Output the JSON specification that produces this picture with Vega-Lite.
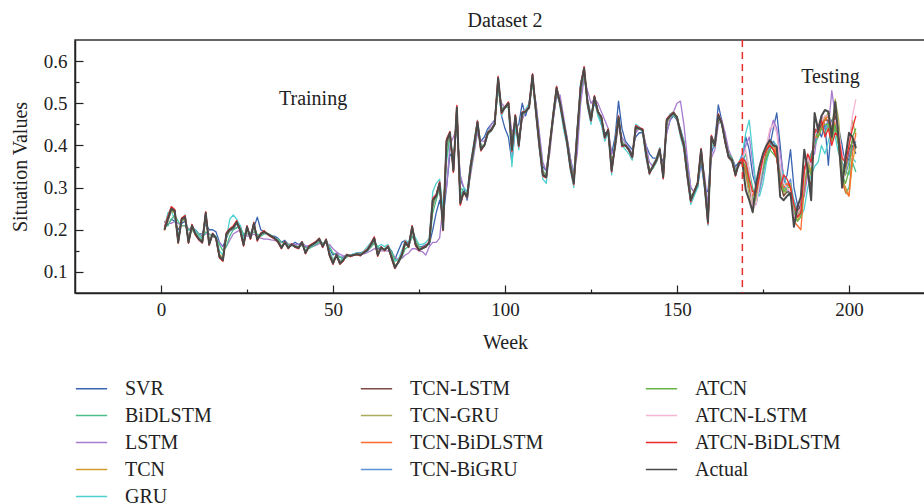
{
  "$schema": "https://vega.github.io/schema/vega-lite/v6.json",
  "autosize": "none",
  "width": 860,
  "height": 253,
  "padding": {"left": 75, "top": 40, "right": 0, "bottom": 211},
  "background": "white",
  "title": {"text": "Dataset 2", "font": "Liberation Serif", "fontSize": 20, "fontWeight": "normal", "color": "#222222", "baseline": "alphabetic", "offset": 13, "dy": 21},
  "config": {"view": {"stroke": "#333333", "strokeWidth": 1.5}, "font": "Liberation Serif"},
  "resolve": {"axis": {"x": "independent", "y": "independent"}},
  "datasets": {
    "names": [
      {"code": "sv", "model": "SVR"}, {"code": "bd", "model": "BiDLSTM"}, {"code": "ls", "model": "LSTM"},
      {"code": "tc", "model": "TCN"}, {"code": "gr", "model": "GRU"}, {"code": "tl", "model": "TCN-LSTM"},
      {"code": "tg", "model": "TCN-GRU"}, {"code": "tb", "model": "TCN-BiDLSTM"}, {"code": "tq", "model": "TCN-BiGRU"},
      {"code": "at", "model": "ATCN"}, {"code": "al", "model": "ATCN-LSTM"}, {"code": "ab", "model": "ATCN-BiDLSTM"},
      {"code": "ac", "model": "Actual"}
    ],
    "notes": [
      {"w": 44.2, "value": 0.496, "label": "Training"},
      {"w": 194.6, "value": 0.549, "label": "Testing"}
    ],
    "split": [{"w": 169}],
    "weekly": [
{"w":1,"ac":0.2,"sv":0.22,"bd":0.21,"ls":0.22,"gr":0.205,"tc":0.205,"tl":0.2,"tg":0.203,"tb":0.198,"tq":0.202,"at":0.2,"al":0.204,"ab":0.206},
{"w":2,"ac":0.225,"sv":0.21,"bd":0.21,"ls":0.215,"gr":0.24,"tc":0.22,"tl":0.228,"tg":0.224,"tb":0.226,"tq":0.222,"at":0.225,"al":0.23,"ab":0.232},
{"w":3,"ac":0.25,"sv":0.225,"bd":0.225,"ls":0.215,"gr":0.245,"tc":0.245,"tl":0.252,"tg":0.248,"tb":0.25,"tq":0.246,"at":0.247,"al":0.253,"ab":0.255},
{"w":4,"ac":0.245,"sv":0.22,"bd":0.235,"ls":0.22,"gr":0.225,"tc":0.24,"tl":0.243,"tg":0.246,"tb":0.24,"tq":0.244,"at":0.242,"al":0.247,"ab":0.248},
{"w":5,"ac":0.17,"sv":0.2,"bd":0.22,"ls":0.215,"gr":0.185,"tc":0.178,"tl":0.172,"tg":0.175,"tb":0.168,"tq":0.174,"at":0.173,"al":0.171,"ab":0.169},
{"w":6,"ac":0.225,"sv":0.215,"bd":0.21,"ls":0.21,"gr":0.225,"tc":0.22,"tl":0.224,"tg":0.222,"tb":0.227,"tq":0.221,"at":0.223,"al":0.226,"ab":0.228},
{"w":7,"ac":0.23,"sv":0.22,"bd":0.21,"ls":0.21,"gr":0.235,"tc":0.226,"tl":0.232,"tg":0.228,"tb":0.231,"tq":0.229,"at":0.227,"al":0.233,"ab":0.234},
{"w":8,"ac":0.17,"sv":0.2,"bd":0.2,"ls":0.2,"gr":0.18,"tc":0.176,"tl":0.171,"tg":0.174,"tb":0.169,"tq":0.173,"at":0.172,"al":0.17,"ab":0.168},
{"w":9,"ac":0.21,"sv":0.205,"bd":0.2,"ls":0.2,"gr":0.2,"tc":0.205,"tl":0.208,"tg":0.211,"tb":0.207,"tq":0.21,"at":0.209,"al":0.212,"ab":0.213},
{"w":10,"ac":0.19,"sv":0.2,"bd":0.19,"ls":0.195,"gr":0.2,"tc":0.193,"tl":0.19,"tg":0.192,"tb":0.188,"tq":0.191,"at":0.19,"al":0.189,"ab":0.187},
{"w":11,"ac":0.178,"sv":0.19,"bd":0.19,"ls":0.19,"gr":0.185,"tc":0.18,"tl":0.177,"tg":0.179,"tb":0.176,"tq":0.18,"at":0.178,"al":0.175,"ab":0.176},
{"w":12,"ac":0.17,"sv":0.19,"bd":0.18,"ls":0.185,"gr":0.175,"tc":0.173,"tl":0.171,"tg":0.172,"tb":0.169,"tq":0.171,"at":0.17,"al":0.168,"ab":0.169},
{"w":13,"ac":0.24,"sv":0.215,"bd":0.195,"ls":0.19,"gr":0.225,"tc":0.232,"tl":0.238,"tg":0.235,"tb":0.241,"tq":0.236,"at":0.237,"al":0.242,"ab":0.243},
{"w":14,"ac":0.165,"sv":0.2,"bd":0.19,"ls":0.19,"gr":0.175,"tc":0.172,"tl":0.167,"tg":0.17,"tb":0.166,"tq":0.169,"at":0.168,"al":0.164,"ab":0.163},
{"w":15,"ac":0.19,"sv":0.2,"bd":0.185,"ls":0.185,"gr":0.19,"tc":0.188,"tl":0.19,"tg":0.189,"tb":0.192,"tq":0.187,"at":0.19,"al":0.193,"ab":0.191},
{"w":16,"ac":0.18,"sv":0.195,"bd":0.18,"ls":0.18,"gr":0.185,"tc":0.182,"tl":0.18,"tg":0.181,"tb":0.179,"tq":0.182,"at":0.18,"al":0.178,"ab":0.179},
{"w":17,"ac":0.136,"sv":0.17,"bd":0.165,"ls":0.17,"gr":0.15,"tc":0.142,"tl":0.138,"tg":0.14,"tb":0.135,"tq":0.139,"at":0.137,"al":0.134,"ab":0.133},
{"w":18,"ac":0.128,"sv":0.16,"bd":0.15,"ls":0.16,"gr":0.14,"tc":0.133,"tl":0.13,"tg":0.131,"tb":0.127,"tq":0.132,"at":0.129,"al":0.126,"ab":0.125},
{"w":19,"ac":0.19,"sv":0.18,"bd":0.16,"ls":0.16,"gr":0.18,"tc":0.184,"tl":0.188,"tg":0.186,"tb":0.191,"tq":0.185,"at":0.187,"al":0.192,"ab":0.193},
{"w":20,"ac":0.2,"sv":0.2,"bd":0.185,"ls":0.175,"gr":0.225,"tc":0.198,"tl":0.2,"tg":0.199,"tb":0.201,"tq":0.197,"at":0.2,"al":0.202,"ab":0.203},
{"w":21,"ac":0.205,"sv":0.2,"bd":0.2,"ls":0.19,"gr":0.235,"tc":0.203,"tl":0.206,"tg":0.204,"tb":0.207,"tq":0.202,"at":0.205,"al":0.208,"ab":0.209},
{"w":22,"ac":0.218,"sv":0.205,"bd":0.205,"ls":0.195,"gr":0.225,"tc":0.214,"tl":0.219,"tg":0.216,"tb":0.22,"tq":0.215,"at":0.217,"al":0.221,"ab":0.222},
{"w":23,"ac":0.2,"sv":0.21,"bd":0.205,"ls":0.2,"gr":0.21,"tc":0.203,"tl":0.2,"tg":0.202,"tb":0.199,"tq":0.203,"at":0.201,"al":0.198,"ab":0.197},
{"w":24,"ac":0.164,"sv":0.185,"bd":0.19,"ls":0.19,"gr":0.18,"tc":0.17,"tl":0.166,"tg":0.168,"tb":0.163,"tq":0.169,"at":0.167,"al":0.162,"ab":0.161},
{"w":25,"ac":0.207,"sv":0.2,"bd":0.19,"ls":0.185,"gr":0.2,"tc":0.202,"tl":0.206,"tg":0.204,"tb":0.208,"tq":0.203,"at":0.205,"al":0.209,"ab":0.21},
{"w":26,"ac":0.18,"sv":0.19,"bd":0.19,"ls":0.185,"gr":0.19,"tc":0.183,"tl":0.18,"tg":0.182,"tb":0.179,"tq":0.184,"at":0.181,"al":0.178,"ab":0.177},
{"w":27,"ac":0.215,"sv":0.205,"bd":0.195,"ls":0.19,"gr":0.21,"tc":0.21,"tl":0.214,"tg":0.212,"tb":0.216,"tq":0.211,"at":0.213,"al":0.217,"ab":0.218},
{"w":28,"ac":0.176,"sv":0.23,"bd":0.19,"ls":0.185,"gr":0.185,"tc":0.18,"tl":0.177,"tg":0.179,"tb":0.175,"tq":0.181,"at":0.178,"al":0.174,"ab":0.173},
{"w":29,"ac":0.19,"sv":0.2,"bd":0.185,"ls":0.18,"gr":0.19,"tc":0.189,"tl":0.19,"tg":0.191,"tb":0.19,"tq":0.188,"at":0.19,"al":0.191,"ab":0.192},
{"w":30,"ac":0.195,"sv":0.195,"bd":0.19,"ls":0.178,"gr":0.195,"tc":0.193,"tl":0.196,"tg":0.194,"tb":0.197,"tq":0.193,"at":0.195,"al":0.197,"ab":0.198},
{"w":31,"ac":0.19,"sv":0.19,"bd":0.19,"ls":0.178,"gr":0.19,"tc":0.19,"tl":0.19,"tg":0.191,"tb":0.189,"tq":0.19,"at":0.19,"al":0.188,"ab":0.189},
{"w":32,"ac":0.185,"sv":0.185,"bd":0.185,"ls":0.176,"gr":0.187,"tc":0.186,"tl":0.185,"tg":0.186,"tb":0.184,"tq":0.186,"at":0.185,"al":0.184,"ab":0.183},
{"w":33,"ac":0.18,"sv":0.185,"bd":0.18,"ls":0.175,"gr":0.18,"tc":0.181,"tl":0.18,"tg":0.181,"tb":0.179,"tq":0.182,"at":0.18,"al":0.179,"ab":0.178},
{"w":34,"ac":0.172,"sv":0.18,"bd":0.178,"ls":0.172,"gr":0.175,"tc":0.174,"tl":0.172,"tg":0.173,"tb":0.171,"tq":0.174,"at":0.172,"al":0.17,"ab":0.17},
{"w":35,"ac":0.157,"sv":0.17,"bd":0.17,"ls":0.17,"gr":0.16,"tc":0.161,"tl":0.158,"tg":0.16,"tb":0.156,"tq":0.16,"at":0.158,"al":0.155,"ab":0.155},
{"w":36,"ac":0.17,"sv":0.175,"bd":0.168,"ls":0.168,"gr":0.17,"tc":0.168,"tl":0.17,"tg":0.169,"tb":0.171,"tq":0.168,"at":0.17,"al":0.172,"ab":0.172},
{"w":37,"ac":0.157,"sv":0.165,"bd":0.165,"ls":0.166,"gr":0.16,"tc":0.16,"tl":0.158,"tg":0.159,"tb":0.156,"tq":0.16,"at":0.158,"al":0.155,"ab":0.155},
{"w":38,"ac":0.165,"sv":0.165,"bd":0.163,"ls":0.165,"gr":0.165,"tc":0.164,"tl":0.165,"tg":0.164,"tb":0.166,"tq":0.163,"at":0.165,"al":0.166,"ab":0.167},
{"w":39,"ac":0.16,"sv":0.17,"bd":0.162,"ls":0.165,"gr":0.16,"tc":0.161,"tl":0.16,"tg":0.161,"tb":0.159,"tq":0.162,"at":0.16,"al":0.159,"ab":0.158},
{"w":40,"ac":0.157,"sv":0.165,"bd":0.16,"ls":0.165,"gr":0.16,"tc":0.159,"tl":0.157,"tg":0.158,"tb":0.156,"tq":0.159,"at":0.157,"al":0.155,"ab":0.155},
{"w":41,"ac":0.17,"sv":0.17,"bd":0.163,"ls":0.165,"gr":0.168,"tc":0.167,"tl":0.17,"tg":0.168,"tb":0.171,"tq":0.167,"at":0.169,"al":0.172,"ab":0.172},
{"w":42,"ac":0.145,"sv":0.16,"bd":0.158,"ls":0.162,"gr":0.15,"tc":0.149,"tl":0.146,"tg":0.148,"tb":0.144,"tq":0.149,"at":0.146,"al":0.143,"ab":0.143},
{"w":43,"ac":0.16,"sv":0.162,"bd":0.155,"ls":0.16,"gr":0.158,"tc":0.158,"tl":0.16,"tg":0.159,"tb":0.161,"tq":0.158,"at":0.16,"al":0.162,"ab":0.162},
{"w":44,"ac":0.165,"sv":0.165,"bd":0.16,"ls":0.16,"gr":0.163,"tc":0.164,"tl":0.165,"tg":0.164,"tb":0.166,"tq":0.163,"at":0.165,"al":0.166,"ab":0.167},
{"w":45,"ac":0.17,"sv":0.17,"bd":0.165,"ls":0.163,"gr":0.17,"tc":0.169,"tl":0.17,"tg":0.17,"tb":0.171,"tq":0.168,"at":0.17,"al":0.172,"ab":0.172},
{"w":46,"ac":0.178,"sv":0.175,"bd":0.17,"ls":0.167,"gr":0.18,"tc":0.176,"tl":0.178,"tg":0.177,"tb":0.179,"tq":0.176,"at":0.178,"al":0.18,"ab":0.18},
{"w":47,"ac":0.16,"sv":0.165,"bd":0.168,"ls":0.168,"gr":0.165,"tc":0.163,"tl":0.16,"tg":0.162,"tb":0.159,"tq":0.163,"at":0.161,"al":0.158,"ab":0.158},
{"w":48,"ac":0.176,"sv":0.17,"bd":0.17,"ls":0.168,"gr":0.172,"tc":0.174,"tl":0.176,"tg":0.175,"tb":0.177,"tq":0.173,"at":0.176,"al":0.178,"ab":0.178},
{"w":49,"ac":0.14,"sv":0.155,"bd":0.16,"ls":0.165,"gr":0.148,"tc":0.145,"tl":0.141,"tg":0.143,"tb":0.139,"tq":0.144,"at":0.142,"al":0.138,"ab":0.138},
{"w":50,"ac":0.12,"sv":0.14,"bd":0.145,"ls":0.155,"gr":0.13,"tc":0.125,"tl":0.121,"tg":0.123,"tb":0.119,"tq":0.124,"at":0.122,"al":0.118,"ab":0.118},
{"w":51,"ac":0.14,"sv":0.145,"bd":0.14,"ls":0.148,"gr":0.138,"tc":0.138,"tl":0.14,"tg":0.139,"tb":0.141,"tq":0.137,"at":0.14,"al":0.142,"ab":0.142},
{"w":52,"ac":0.12,"sv":0.135,"bd":0.135,"ls":0.142,"gr":0.128,"tc":0.124,"tl":0.121,"tg":0.122,"tb":0.119,"tq":0.123,"at":0.121,"al":0.118,"ab":0.118},
{"w":53,"ac":0.128,"sv":0.135,"bd":0.13,"ls":0.138,"gr":0.13,"tc":0.129,"tl":0.128,"tg":0.129,"tb":0.127,"tq":0.13,"at":0.128,"al":0.126,"ab":0.126},
{"w":54,"ac":0.14,"sv":0.14,"bd":0.135,"ls":0.138,"gr":0.14,"tc":0.138,"tl":0.14,"tg":0.139,"tb":0.141,"tq":0.138,"at":0.14,"al":0.142,"ab":0.142},
{"w":55,"ac":0.138,"sv":0.14,"bd":0.138,"ls":0.14,"gr":0.14,"tc":0.138,"tl":0.138,"tg":0.139,"tb":0.137,"tq":0.139,"at":0.138,"al":0.136,"ab":0.136},
{"w":56,"ac":0.14,"sv":0.142,"bd":0.14,"ls":0.141,"gr":0.143,"tc":0.14,"tl":0.14,"tg":0.141,"tb":0.14,"tq":0.141,"at":0.14,"al":0.139,"ab":0.139},
{"w":57,"ac":0.142,"sv":0.145,"bd":0.142,"ls":0.142,"gr":0.145,"tc":0.142,"tl":0.142,"tg":0.143,"tb":0.142,"tq":0.143,"at":0.142,"al":0.141,"ab":0.141},
{"w":58,"ac":0.14,"sv":0.145,"bd":0.142,"ls":0.142,"gr":0.143,"tc":0.141,"tl":0.14,"tg":0.141,"tb":0.139,"tq":0.141,"at":0.14,"al":0.138,"ab":0.138},
{"w":59,"ac":0.146,"sv":0.148,"bd":0.145,"ls":0.143,"gr":0.15,"tc":0.145,"tl":0.146,"tg":0.146,"tb":0.147,"tq":0.145,"at":0.146,"al":0.148,"ab":0.148},
{"w":60,"ac":0.152,"sv":0.155,"bd":0.15,"ls":0.146,"gr":0.16,"tc":0.151,"tl":0.152,"tg":0.152,"tb":0.153,"tq":0.15,"at":0.152,"al":0.154,"ab":0.154},
{"w":61,"ac":0.165,"sv":0.16,"bd":0.158,"ls":0.15,"gr":0.17,"tc":0.162,"tl":0.165,"tg":0.163,"tb":0.166,"tq":0.162,"at":0.164,"al":0.167,"ab":0.167},
{"w":62,"ac":0.18,"sv":0.17,"bd":0.168,"ls":0.155,"gr":0.175,"tc":0.176,"tl":0.18,"tg":0.178,"tb":0.182,"tq":0.177,"at":0.179,"al":0.183,"ab":0.183},
{"w":63,"ac":0.14,"sv":0.155,"bd":0.16,"ls":0.152,"gr":0.16,"tc":0.146,"tl":0.141,"tg":0.143,"tb":0.139,"tq":0.145,"at":0.142,"al":0.137,"ab":0.137},
{"w":64,"ac":0.158,"sv":0.155,"bd":0.155,"ls":0.15,"gr":0.165,"tc":0.156,"tl":0.158,"tg":0.157,"tb":0.159,"tq":0.156,"at":0.158,"al":0.16,"ab":0.16},
{"w":65,"ac":0.152,"sv":0.155,"bd":0.155,"ls":0.15,"gr":0.16,"tc":0.153,"tl":0.152,"tg":0.153,"tb":0.151,"tq":0.154,"at":0.152,"al":0.15,"ab":0.15},
{"w":66,"ac":0.16,"sv":0.16,"bd":0.157,"ls":0.15,"gr":0.165,"tc":0.159,"tl":0.16,"tg":0.16,"tb":0.161,"tq":0.159,"at":0.16,"al":0.162,"ab":0.162},
{"w":67,"ac":0.135,"sv":0.15,"bd":0.148,"ls":0.145,"gr":0.145,"tc":0.14,"tl":0.136,"tg":0.138,"tb":0.134,"tq":0.139,"at":0.137,"al":0.132,"ab":0.132},
{"w":68,"ac":0.11,"sv":0.13,"bd":0.13,"ls":0.135,"gr":0.125,"tc":0.116,"tl":0.111,"tg":0.113,"tb":0.109,"tq":0.115,"at":0.112,"al":0.108,"ab":0.108},
{"w":69,"ac":0.123,"sv":0.15,"bd":0.125,"ls":0.13,"gr":0.13,"tc":0.122,"tl":0.123,"tg":0.123,"tb":0.124,"tq":0.121,"at":0.123,"al":0.125,"ab":0.125},
{"w":70,"ac":0.14,"sv":0.17,"bd":0.135,"ls":0.132,"gr":0.15,"tc":0.138,"tl":0.14,"tg":0.139,"tb":0.141,"tq":0.138,"at":0.14,"al":0.142,"ab":0.142},
{"w":71,"ac":0.17,"sv":0.175,"bd":0.155,"ls":0.14,"gr":0.175,"tc":0.165,"tl":0.17,"tg":0.168,"tb":0.172,"tq":0.166,"at":0.169,"al":0.173,"ab":0.173},
{"w":72,"ac":0.16,"sv":0.165,"bd":0.16,"ls":0.145,"gr":0.17,"tc":0.162,"tl":0.16,"tg":0.161,"tb":0.159,"tq":0.162,"at":0.16,"al":0.158,"ab":0.158},
{"w":73,"ac":0.207,"sv":0.185,"bd":0.185,"ls":0.155,"gr":0.2,"tc":0.2,"tl":0.206,"tg":0.203,"tb":0.209,"tq":0.201,"at":0.205,"al":0.21,"ab":0.21},
{"w":74,"ac":0.165,"sv":0.17,"bd":0.175,"ls":0.155,"gr":0.18,"tc":0.172,"tl":0.166,"tg":0.169,"tb":0.164,"tq":0.171,"at":0.167,"al":0.162,"ab":0.162},
{"w":75,"ac":0.152,"sv":0.16,"bd":0.16,"ls":0.15,"gr":0.165,"tc":0.155,"tl":0.152,"tg":0.154,"tb":0.151,"tq":0.155,"at":0.153,"al":0.15,"ab":0.15},
{"w":76,"ac":0.156,"sv":0.16,"bd":0.157,"ls":0.148,"gr":0.165,"tc":0.156,"tl":0.156,"tg":0.156,"tb":0.157,"tq":0.155,"at":0.156,"al":0.158,"ab":0.158},
{"w":77,"ac":0.16,"sv":0.165,"bd":0.16,"ls":0.14,"gr":0.17,"tc":0.16,"tl":0.16,"tg":0.161,"tb":0.16,"tq":0.16,"at":0.16,"al":0.162,"ab":0.162},
{"w":78,"ac":0.17,"sv":0.165,"bd":0.168,"ls":0.16,"gr":0.18,"tc":0.169,"tl":0.17,"tg":0.17,"tb":0.171,"tq":0.169,"at":0.17,"al":0.172,"ab":0.172},
{"w":79,"ac":0.27,"sv":0.2,"bd":0.24,"ls":0.17,"gr":0.29,"tc":0.255,"tl":0.268,"tg":0.262,"tb":0.272,"tq":0.258,"at":0.265,"al":0.275,"ab":0.275},
{"w":80,"ac":0.28,"sv":0.24,"bd":0.27,"ls":0.17,"gr":0.31,"tc":0.278,"tl":0.28,"tg":0.279,"tb":0.282,"tq":0.277,"at":0.28,"al":0.284,"ab":0.284},
{"w":81,"ac":0.31,"sv":0.27,"bd":0.3,"ls":0.18,"gr":0.32,"tc":0.305,"tl":0.31,"tg":0.308,"tb":0.312,"tq":0.306,"at":0.309,"al":0.314,"ab":0.314},
{"w":82,"ac":0.2,"sv":0.23,"bd":0.23,"ls":0.26,"gr":0.25,"tc":0.215,"tl":0.203,"tg":0.208,"tb":0.2,"tq":0.212,"at":0.205,"al":0.198,"ab":0.198},
{"w":83,"ac":0.41,"sv":0.3,"bd":0.37,"ls":0.3,"gr":0.36,"tc":0.395,"tl":0.408,"tg":0.402,"tb":0.412,"tq":0.398,"at":0.405,"al":0.415,"ab":0.415},
{"w":84,"ac":0.43,"sv":0.38,"bd":0.42,"ls":0.4,"gr":0.43,"tc":0.428,"tl":0.43,"tg":0.429,"tb":0.432,"tq":0.427,"at":0.43,"al":0.433,"ab":0.433},
{"w":85,"ac":0.34,"sv":0.37,"bd":0.36,"ls":0.42,"gr":0.35,"tc":0.35,"tl":0.342,"tg":0.345,"tb":0.338,"tq":0.348,"at":0.343,"al":0.336,"ab":0.336},
{"w":86,"ac":0.49,"sv":0.45,"bd":0.46,"ls":0.44,"gr":0.47,"tc":0.48,"tl":0.488,"tg":0.485,"tb":0.492,"tq":0.482,"at":0.487,"al":0.495,"ab":0.495},
{"w":87,"ac":0.263,"sv":0.32,"bd":0.3,"ls":0.33,"gr":0.28,"tc":0.275,"tl":0.265,"tg":0.27,"tb":0.261,"tq":0.272,"at":0.267,"al":0.258,"ab":0.258},
{"w":88,"ac":0.29,"sv":0.3,"bd":0.29,"ls":0.3,"gr":0.3,"tc":0.29,"tl":0.29,"tg":0.291,"tb":0.289,"tq":0.29,"at":0.29,"al":0.288,"ab":0.288},
{"w":89,"ac":0.278,"sv":0.27,"bd":0.285,"ls":0.29,"gr":0.29,"tc":0.282,"tl":0.279,"tg":0.28,"tb":0.277,"tq":0.281,"at":0.279,"al":0.276,"ab":0.276},
{"w":90,"ac":0.35,"sv":0.34,"bd":0.34,"ls":0.33,"gr":0.36,"tc":0.345,"tl":0.35,"tg":0.348,"tb":0.352,"tq":0.346,"at":0.349,"al":0.353,"ab":0.353},
{"w":91,"ac":0.4,"sv":0.39,"bd":0.39,"ls":0.38,"gr":0.41,"tc":0.396,"tl":0.4,"tg":0.398,"tb":0.402,"tq":0.397,"at":0.4,"al":0.403,"ab":0.403},
{"w":92,"ac":0.455,"sv":0.44,"bd":0.445,"ls":0.43,"gr":0.46,"tc":0.45,"tl":0.454,"tg":0.452,"tb":0.457,"tq":0.451,"at":0.454,"al":0.458,"ab":0.458},
{"w":93,"ac":0.39,"sv":0.41,"bd":0.4,"ls":0.41,"gr":0.4,"tc":0.395,"tl":0.391,"tg":0.393,"tb":0.389,"tq":0.394,"at":0.391,"al":0.387,"ab":0.387},
{"w":94,"ac":0.4,"sv":0.42,"bd":0.4,"ls":0.41,"gr":0.4,"tc":0.4,"tl":0.4,"tg":0.4,"tb":0.4,"tq":0.4,"at":0.4,"al":0.4,"ab":0.401},
{"w":95,"ac":0.43,"sv":0.44,"bd":0.425,"ls":0.43,"gr":0.435,"tc":0.428,"tl":0.43,"tg":0.429,"tb":0.431,"tq":0.428,"at":0.43,"al":0.432,"ab":0.432},
{"w":96,"ac":0.436,"sv":0.45,"bd":0.435,"ls":0.45,"gr":0.44,"tc":0.435,"tl":0.436,"tg":0.436,"tb":0.437,"tq":0.435,"at":0.436,"al":0.438,"ab":0.438},
{"w":97,"ac":0.45,"sv":0.46,"bd":0.45,"ls":0.46,"gr":0.455,"tc":0.449,"tl":0.45,"tg":0.45,"tb":0.451,"tq":0.449,"at":0.45,"al":0.452,"ab":0.452},
{"w":98,"ac":0.56,"sv":0.55,"bd":0.54,"ls":0.53,"gr":0.54,"tc":0.55,"tl":0.558,"tg":0.555,"tb":0.562,"tq":0.552,"at":0.557,"al":0.565,"ab":0.563},
{"w":99,"ac":0.479,"sv":0.47,"bd":0.49,"ls":0.5,"gr":0.47,"tc":0.485,"tl":0.48,"tg":0.482,"tb":0.477,"tq":0.484,"at":0.48,"al":0.475,"ab":0.475},
{"w":100,"ac":0.49,"sv":0.44,"bd":0.49,"ls":0.49,"gr":0.49,"tc":0.489,"tl":0.49,"tg":0.49,"tb":0.491,"tq":0.489,"at":0.49,"al":0.492,"ab":0.492},
{"w":101,"ac":0.5,"sv":0.42,"bd":0.49,"ls":0.5,"gr":0.5,"tc":0.497,"tl":0.5,"tg":0.499,"tb":0.502,"tq":0.498,"at":0.5,"al":0.503,"ab":0.503},
{"w":102,"ac":0.39,"sv":0.36,"bd":0.4,"ls":0.43,"gr":0.35,"tc":0.4,"tl":0.392,"tg":0.395,"tb":0.388,"tq":0.398,"at":0.393,"al":0.385,"ab":0.385},
{"w":103,"ac":0.47,"sv":0.44,"bd":0.46,"ls":0.45,"gr":0.45,"tc":0.465,"tl":0.469,"tg":0.467,"tb":0.471,"tq":0.466,"at":0.468,"al":0.473,"ab":0.473},
{"w":104,"ac":0.4,"sv":0.45,"bd":0.41,"ls":0.42,"gr":0.39,"tc":0.405,"tl":0.401,"tg":0.403,"tb":0.399,"tq":0.404,"at":0.402,"al":0.397,"ab":0.397},
{"w":105,"ac":0.477,"sv":0.5,"bd":0.47,"ls":0.46,"gr":0.48,"tc":0.474,"tl":0.477,"tg":0.476,"tb":0.478,"tq":0.474,"at":0.476,"al":0.479,"ab":0.479},
{"w":106,"ac":0.48,"sv":0.47,"bd":0.48,"ls":0.48,"gr":0.485,"tc":0.48,"tl":0.48,"tg":0.48,"tb":0.481,"tq":0.48,"at":0.48,"al":0.482,"ab":0.482},
{"w":107,"ac":0.49,"sv":0.5,"bd":0.49,"ls":0.49,"gr":0.5,"tc":0.49,"tl":0.49,"tg":0.49,"tb":0.491,"tq":0.489,"at":0.49,"al":0.492,"ab":0.492},
{"w":108,"ac":0.567,"sv":0.55,"bd":0.55,"ls":0.55,"gr":0.56,"tc":0.56,"tl":0.565,"tg":0.563,"tb":0.568,"tq":0.561,"at":0.565,"al":0.57,"ab":0.57},
{"w":109,"ac":0.48,"sv":0.5,"bd":0.48,"ls":0.5,"gr":0.47,"tc":0.485,"tl":0.481,"tg":0.483,"tb":0.479,"tq":0.484,"at":0.481,"al":0.477,"ab":0.477},
{"w":110,"ac":0.4,"sv":0.42,"bd":0.41,"ls":0.43,"gr":0.39,"tc":0.405,"tl":0.401,"tg":0.403,"tb":0.399,"tq":0.404,"at":0.402,"al":0.397,"ab":0.397},
{"w":111,"ac":0.33,"sv":0.35,"bd":0.34,"ls":0.36,"gr":0.32,"tc":0.335,"tl":0.331,"tg":0.333,"tb":0.329,"tq":0.334,"at":0.331,"al":0.327,"ab":0.327},
{"w":112,"ac":0.325,"sv":0.34,"bd":0.33,"ls":0.34,"gr":0.31,"tc":0.327,"tl":0.325,"tg":0.326,"tb":0.324,"tq":0.327,"at":0.325,"al":0.323,"ab":0.323},
{"w":113,"ac":0.4,"sv":0.4,"bd":0.4,"ls":0.38,"gr":0.4,"tc":0.397,"tl":0.4,"tg":0.399,"tb":0.401,"tq":0.398,"at":0.4,"al":0.403,"ab":0.403},
{"w":114,"ac":0.47,"sv":0.46,"bd":0.47,"ls":0.46,"gr":0.48,"tc":0.466,"tl":0.47,"tg":0.468,"tb":0.472,"tq":0.467,"at":0.469,"al":0.473,"ab":0.473},
{"w":115,"ac":0.536,"sv":0.52,"bd":0.53,"ls":0.52,"gr":0.54,"tc":0.53,"tl":0.535,"tg":0.533,"tb":0.538,"tq":0.531,"at":0.534,"al":0.54,"ab":0.54},
{"w":116,"ac":0.5,"sv":0.5,"bd":0.5,"ls":0.52,"gr":0.49,"tc":0.502,"tl":0.5,"tg":0.501,"tb":0.499,"tq":0.502,"at":0.5,"al":0.498,"ab":0.498},
{"w":117,"ac":0.455,"sv":0.46,"bd":0.46,"ls":0.47,"gr":0.44,"tc":0.457,"tl":0.455,"tg":0.456,"tb":0.454,"tq":0.457,"at":0.455,"al":0.452,"ab":0.452},
{"w":118,"ac":0.41,"sv":0.42,"bd":0.41,"ls":0.42,"gr":0.4,"tc":0.412,"tl":0.41,"tg":0.411,"tb":0.409,"tq":0.412,"at":0.41,"al":0.408,"ab":0.408},
{"w":119,"ac":0.35,"sv":0.37,"bd":0.36,"ls":0.37,"gr":0.34,"tc":0.355,"tl":0.351,"tg":0.353,"tb":0.349,"tq":0.354,"at":0.351,"al":0.347,"ab":0.347},
{"w":120,"ac":0.31,"sv":0.33,"bd":0.32,"ls":0.33,"gr":0.3,"tc":0.315,"tl":0.311,"tg":0.313,"tb":0.309,"tq":0.314,"at":0.311,"al":0.307,"ab":0.307},
{"w":121,"ac":0.43,"sv":0.44,"bd":0.42,"ls":0.38,"gr":0.44,"tc":0.425,"tl":0.43,"tg":0.428,"tb":0.432,"tq":0.426,"at":0.429,"al":0.433,"ab":0.433},
{"w":122,"ac":0.54,"sv":0.52,"bd":0.53,"ls":0.5,"gr":0.55,"tc":0.535,"tl":0.54,"tg":0.538,"tb":0.542,"tq":0.536,"at":0.539,"al":0.544,"ab":0.544},
{"w":123,"ac":0.583,"sv":0.57,"bd":0.57,"ls":0.56,"gr":0.58,"tc":0.575,"tl":0.582,"tg":0.579,"tb":0.585,"tq":0.577,"at":0.581,"al":0.587,"ab":0.587},
{"w":124,"ac":0.5,"sv":0.51,"bd":0.5,"ls":0.53,"gr":0.49,"tc":0.505,"tl":0.501,"tg":0.503,"tb":0.499,"tq":0.504,"at":0.501,"al":0.497,"ab":0.497},
{"w":125,"ac":0.46,"sv":0.47,"bd":0.47,"ls":0.5,"gr":0.45,"tc":0.462,"tl":0.46,"tg":0.461,"tb":0.459,"tq":0.462,"at":0.46,"al":0.458,"ab":0.458},
{"w":126,"ac":0.515,"sv":0.5,"bd":0.51,"ls":0.51,"gr":0.51,"tc":0.512,"tl":0.515,"tg":0.514,"tb":0.516,"tq":0.513,"at":0.515,"al":0.518,"ab":0.518},
{"w":127,"ac":0.48,"sv":0.48,"bd":0.48,"ls":0.5,"gr":0.47,"tc":0.482,"tl":0.48,"tg":0.481,"tb":0.479,"tq":0.482,"at":0.48,"al":0.478,"ab":0.478},
{"w":128,"ac":0.467,"sv":0.45,"bd":0.46,"ls":0.48,"gr":0.45,"tc":0.466,"tl":0.467,"tg":0.466,"tb":0.468,"tq":0.465,"at":0.467,"al":0.469,"ab":0.469},
{"w":129,"ac":0.42,"sv":0.43,"bd":0.425,"ls":0.46,"gr":0.41,"tc":0.424,"tl":0.421,"tg":0.422,"tb":0.419,"tq":0.423,"at":0.421,"al":0.417,"ab":0.417},
{"w":130,"ac":0.437,"sv":0.43,"bd":0.43,"ls":0.44,"gr":0.43,"tc":0.435,"tl":0.437,"tg":0.436,"tb":0.438,"tq":0.435,"at":0.437,"al":0.439,"ab":0.439},
{"w":131,"ac":0.34,"sv":0.38,"bd":0.35,"ls":0.38,"gr":0.33,"tc":0.348,"tl":0.342,"tg":0.345,"tb":0.339,"tq":0.347,"at":0.343,"al":0.337,"ab":0.337},
{"w":132,"ac":0.4,"sv":0.42,"bd":0.4,"ls":0.39,"gr":0.41,"tc":0.398,"tl":0.4,"tg":0.399,"tb":0.401,"tq":0.398,"at":0.4,"al":0.402,"ab":0.402},
{"w":133,"ac":0.467,"sv":0.505,"bd":0.46,"ls":0.45,"gr":0.47,"tc":0.462,"tl":0.466,"tg":0.464,"tb":0.468,"tq":0.463,"at":0.466,"al":0.47,"ab":0.47},
{"w":134,"ac":0.4,"sv":0.44,"bd":0.41,"ls":0.42,"gr":0.4,"tc":0.405,"tl":0.401,"tg":0.403,"tb":0.399,"tq":0.404,"at":0.401,"al":0.397,"ab":0.397},
{"w":135,"ac":0.4,"sv":0.41,"bd":0.4,"ls":0.405,"gr":0.39,"tc":0.4,"tl":0.4,"tg":0.4,"tb":0.4,"tq":0.4,"at":0.4,"al":0.4,"ab":0.401},
{"w":136,"ac":0.39,"sv":0.4,"bd":0.39,"ls":0.395,"gr":0.38,"tc":0.391,"tl":0.39,"tg":0.39,"tb":0.389,"tq":0.391,"at":0.39,"al":0.388,"ab":0.388},
{"w":137,"ac":0.373,"sv":0.39,"bd":0.375,"ls":0.38,"gr":0.365,"tc":0.375,"tl":0.373,"tg":0.374,"tb":0.372,"tq":0.375,"at":0.373,"al":0.371,"ab":0.371},
{"w":138,"ac":0.444,"sv":0.42,"bd":0.44,"ls":0.43,"gr":0.45,"tc":0.438,"tl":0.443,"tg":0.441,"tb":0.446,"tq":0.44,"at":0.443,"al":0.447,"ab":0.447},
{"w":139,"ac":0.44,"sv":0.43,"bd":0.44,"ls":0.44,"gr":0.445,"tc":0.44,"tl":0.44,"tg":0.44,"tb":0.441,"tq":0.439,"at":0.44,"al":0.442,"ab":0.442},
{"w":140,"ac":0.437,"sv":0.43,"bd":0.435,"ls":0.44,"gr":0.43,"tc":0.437,"tl":0.437,"tg":0.437,"tb":0.438,"tq":0.436,"at":0.437,"al":0.439,"ab":0.439},
{"w":141,"ac":0.38,"sv":0.4,"bd":0.385,"ls":0.4,"gr":0.37,"tc":0.385,"tl":0.381,"tg":0.383,"tb":0.379,"tq":0.384,"at":0.381,"al":0.377,"ab":0.377},
{"w":142,"ac":0.335,"sv":0.38,"bd":0.34,"ls":0.36,"gr":0.33,"tc":0.34,"tl":0.336,"tg":0.338,"tb":0.334,"tq":0.339,"at":0.336,"al":0.332,"ab":0.332},
{"w":143,"ac":0.35,"sv":0.37,"bd":0.345,"ls":0.35,"gr":0.355,"tc":0.349,"tl":0.35,"tg":0.35,"tb":0.351,"tq":0.349,"at":0.35,"al":0.352,"ab":0.352},
{"w":144,"ac":0.365,"sv":0.37,"bd":0.36,"ls":0.36,"gr":0.37,"tc":0.364,"tl":0.365,"tg":0.365,"tb":0.366,"tq":0.364,"at":0.365,"al":0.367,"ab":0.367},
{"w":145,"ac":0.39,"sv":0.38,"bd":0.385,"ls":0.38,"gr":0.395,"tc":0.387,"tl":0.39,"tg":0.389,"tb":0.391,"tq":0.388,"at":0.39,"al":0.392,"ab":0.392},
{"w":146,"ac":0.325,"sv":0.36,"bd":0.33,"ls":0.35,"gr":0.32,"tc":0.332,"tl":0.326,"tg":0.329,"tb":0.323,"tq":0.331,"at":0.327,"al":0.321,"ab":0.321},
{"w":147,"ac":0.46,"sv":0.43,"bd":0.45,"ls":0.43,"gr":0.455,"tc":0.452,"tl":0.459,"tg":0.456,"tb":0.462,"tq":0.454,"at":0.458,"al":0.463,"ab":0.463},
{"w":148,"ac":0.47,"sv":0.46,"bd":0.47,"ls":0.46,"gr":0.475,"tc":0.468,"tl":0.47,"tg":0.469,"tb":0.471,"tq":0.468,"at":0.47,"al":0.472,"ab":0.472},
{"w":149,"ac":0.477,"sv":0.47,"bd":0.47,"ls":0.48,"gr":0.48,"tc":0.476,"tl":0.477,"tg":0.477,"tb":0.478,"tq":0.476,"at":0.477,"al":0.479,"ab":0.479},
{"w":150,"ac":0.467,"sv":0.46,"bd":0.465,"ls":0.5,"gr":0.46,"tc":0.468,"tl":0.467,"tg":0.467,"tb":0.466,"tq":0.468,"at":0.467,"al":0.465,"ab":0.465},
{"w":151,"ac":0.43,"sv":0.44,"bd":0.435,"ls":0.505,"gr":0.42,"tc":0.434,"tl":0.431,"tg":0.432,"tb":0.429,"tq":0.433,"at":0.431,"al":0.427,"ab":0.427},
{"w":152,"ac":0.4,"sv":0.41,"bd":0.41,"ls":0.45,"gr":0.39,"tc":0.404,"tl":0.401,"tg":0.402,"tb":0.399,"tq":0.403,"at":0.401,"al":0.397,"ab":0.397},
{"w":153,"ac":0.33,"sv":0.36,"bd":0.34,"ls":0.37,"gr":0.32,"tc":0.337,"tl":0.331,"tg":0.334,"tb":0.328,"tq":0.336,"at":0.332,"al":0.326,"ab":0.326},
{"w":154,"ac":0.27,"sv":0.3,"bd":0.28,"ls":0.3,"gr":0.26,"tc":0.277,"tl":0.271,"tg":0.274,"tb":0.268,"tq":0.276,"at":0.272,"al":0.266,"ab":0.266},
{"w":155,"ac":0.29,"sv":0.29,"bd":0.29,"ls":0.29,"gr":0.28,"tc":0.29,"tl":0.29,"tg":0.29,"tb":0.291,"tq":0.289,"at":0.29,"al":0.292,"ab":0.292},
{"w":156,"ac":0.31,"sv":0.3,"bd":0.31,"ls":0.31,"gr":0.3,"tc":0.309,"tl":0.31,"tg":0.31,"tb":0.311,"tq":0.309,"at":0.31,"al":0.312,"ab":0.312},
{"w":157,"ac":0.39,"sv":0.36,"bd":0.38,"ls":0.37,"gr":0.385,"tc":0.384,"tl":0.389,"tg":0.387,"tb":0.391,"tq":0.385,"at":0.388,"al":0.393,"ab":0.393},
{"w":158,"ac":0.31,"sv":0.3,"bd":0.31,"ls":0.33,"gr":0.3,"tc":0.315,"tl":0.311,"tg":0.313,"tb":0.309,"tq":0.314,"at":0.311,"al":0.307,"ab":0.307},
{"w":159,"ac":0.218,"sv":0.29,"bd":0.23,"ls":0.26,"gr":0.21,"tc":0.228,"tl":0.22,"tg":0.224,"tb":0.216,"tq":0.226,"at":0.221,"al":0.214,"ab":0.214},
{"w":160,"ac":0.42,"sv":0.38,"bd":0.4,"ls":0.37,"gr":0.41,"tc":0.41,"tl":0.418,"tg":0.415,"tb":0.422,"tq":0.412,"at":0.417,"al":0.424,"ab":0.424},
{"w":161,"ac":0.4,"sv":0.41,"bd":0.4,"ls":0.39,"gr":0.395,"tc":0.401,"tl":0.4,"tg":0.401,"tb":0.399,"tq":0.401,"at":0.4,"al":0.398,"ab":0.398},
{"w":162,"ac":0.472,"sv":0.496,"bd":0.465,"ls":0.45,"gr":0.47,"tc":0.466,"tl":0.471,"tg":0.469,"tb":0.474,"tq":0.467,"at":0.47,"al":0.475,"ab":0.475},
{"w":163,"ac":0.453,"sv":0.46,"bd":0.45,"ls":0.46,"gr":0.455,"tc":0.453,"tl":0.453,"tg":0.453,"tb":0.454,"tq":0.452,"at":0.453,"al":0.455,"ab":0.455},
{"w":164,"ac":0.41,"sv":0.42,"bd":0.41,"ls":0.43,"gr":0.405,"tc":0.413,"tl":0.41,"tg":0.412,"tb":0.409,"tq":0.413,"at":0.411,"al":0.407,"ab":0.407},
{"w":165,"ac":0.373,"sv":0.38,"bd":0.38,"ls":0.39,"gr":0.37,"tc":0.376,"tl":0.374,"tg":0.375,"tb":0.372,"tq":0.376,"at":0.374,"al":0.371,"ab":0.371},
{"w":166,"ac":0.365,"sv":0.37,"bd":0.37,"ls":0.37,"gr":0.36,"tc":0.366,"tl":0.365,"tg":0.366,"tb":0.364,"tq":0.366,"at":0.365,"al":0.363,"ab":0.363},
{"w":167,"ac":0.33,"sv":0.35,"bd":0.34,"ls":0.345,"gr":0.33,"tc":0.334,"tl":0.331,"tg":0.332,"tb":0.329,"tq":0.333,"at":0.331,"al":0.327,"ab":0.327},
{"w":168,"ac":0.358,"sv":0.36,"bd":0.355,"ls":0.35,"gr":0.36,"tc":0.356,"tl":0.358,"tg":0.357,"tb":0.359,"tq":0.356,"at":0.358,"al":0.36,"ab":0.36},
{"w":169,"ac":0.36,"sv":0.37,"bd":0.36,"ls":0.37,"gr":0.38,"tc":0.36,"tl":0.37,"tg":0.36,"tb":0.37,"tq":0.38,"at":0.36,"al":0.37,"ab":0.37},
{"w":170,"ac":0.294,"sv":0.42,"bd":0.38,"ls":0.4,"gr":0.43,"tc":0.35,"tl":0.34,"tg":0.33,"tb":0.34,"tq":0.36,"at":0.35,"al":0.39,"ab":0.36},
{"w":171,"ac":0.27,"sv":0.39,"bd":0.34,"ls":0.42,"gr":0.46,"tc":0.3,"tl":0.3,"tg":0.28,"tb":0.3,"tq":0.32,"at":0.31,"al":0.34,"ab":0.32},
{"w":172,"ac":0.242,"sv":0.33,"bd":0.3,"ls":0.36,"gr":0.38,"tc":0.27,"tl":0.26,"tg":0.24,"tb":0.28,"tq":0.27,"at":0.27,"al":0.25,"ab":0.29},
{"w":173,"ac":0.31,"sv":0.3,"bd":0.27,"ls":0.3,"gr":0.3,"tc":0.28,"tl":0.29,"tg":0.28,"tb":0.3,"tq":0.26,"at":0.27,"al":0.26,"ab":0.29},
{"w":174,"ac":0.35,"sv":0.33,"bd":0.3,"ls":0.29,"gr":0.28,"tc":0.33,"tl":0.33,"tg":0.32,"tb":0.35,"tq":0.3,"at":0.31,"al":0.31,"ab":0.33},
{"w":175,"ac":0.38,"sv":0.36,"bd":0.34,"ls":0.33,"gr":0.31,"tc":0.36,"tl":0.36,"tg":0.35,"tb":0.37,"tq":0.35,"at":0.35,"al":0.36,"ab":0.37},
{"w":176,"ac":0.4,"sv":0.38,"bd":0.37,"ls":0.37,"gr":0.36,"tc":0.38,"tl":0.39,"tg":0.38,"tb":0.39,"tq":0.37,"at":0.37,"al":0.4,"ab":0.39},
{"w":177,"ac":0.413,"sv":0.4,"bd":0.39,"ls":0.43,"gr":0.39,"tc":0.4,"tl":0.4,"tg":0.41,"tb":0.41,"tq":0.4,"at":0.39,"al":0.44,"ab":0.4},
{"w":178,"ac":0.4,"sv":0.44,"bd":0.4,"ls":0.46,"gr":0.41,"tc":0.39,"tl":0.39,"tg":0.4,"tb":0.4,"tq":0.41,"at":0.38,"al":0.45,"ab":0.39},
{"w":179,"ac":0.397,"sv":0.477,"bd":0.38,"ls":0.44,"gr":0.4,"tc":0.38,"tl":0.37,"tg":0.39,"tb":0.38,"tq":0.39,"at":0.37,"al":0.43,"ab":0.37},
{"w":180,"ac":0.278,"sv":0.4,"bd":0.34,"ls":0.38,"gr":0.35,"tc":0.33,"tl":0.31,"tg":0.31,"tb":0.32,"tq":0.33,"at":0.32,"al":0.35,"ab":0.3},
{"w":181,"ac":0.27,"sv":0.31,"bd":0.3,"ls":0.33,"gr":0.33,"tc":0.29,"tl":0.28,"tg":0.28,"tb":0.3,"tq":0.3,"at":0.29,"al":0.31,"ab":0.33},
{"w":182,"ac":0.28,"sv":0.33,"bd":0.29,"ls":0.3,"gr":0.3,"tc":0.3,"tl":0.29,"tg":0.3,"tb":0.31,"tq":0.3,"at":0.3,"al":0.3,"ab":0.32},
{"w":183,"ac":0.287,"sv":0.39,"bd":0.28,"ls":0.28,"gr":0.31,"tc":0.3,"tl":0.29,"tg":0.31,"tb":0.3,"tq":0.32,"at":0.3,"al":0.29,"ab":0.3},
{"w":184,"ac":0.207,"sv":0.3,"bd":0.26,"ls":0.27,"gr":0.27,"tc":0.25,"tl":0.23,"tg":0.24,"tb":0.22,"tq":0.25,"at":0.24,"al":0.23,"ab":0.26},
{"w":185,"ac":0.254,"sv":0.26,"bd":0.24,"ls":0.25,"gr":0.24,"tc":0.22,"tl":0.24,"tg":0.23,"tb":0.21,"tq":0.23,"at":0.22,"al":0.24,"ab":0.23},
{"w":186,"ac":0.278,"sv":0.24,"bd":0.25,"ls":0.26,"gr":0.23,"tc":0.24,"tl":0.26,"tg":0.25,"tb":0.2,"tq":0.24,"at":0.23,"al":0.25,"ab":0.24},
{"w":187,"ac":0.39,"sv":0.3,"bd":0.3,"ls":0.28,"gr":0.25,"tc":0.32,"tl":0.35,"tg":0.33,"tb":0.3,"tq":0.3,"at":0.31,"al":0.32,"ab":0.34},
{"w":188,"ac":0.342,"sv":0.36,"bd":0.35,"ls":0.33,"gr":0.3,"tc":0.36,"tl":0.34,"tg":0.36,"tb":0.35,"tq":0.37,"at":0.35,"al":0.37,"ab":0.38},
{"w":189,"ac":0.27,"sv":0.38,"bd":0.38,"ls":0.37,"gr":0.33,"tc":0.34,"tl":0.3,"tg":0.33,"tb":0.33,"tq":0.36,"at":0.33,"al":0.35,"ab":0.36},
{"w":190,"ac":0.477,"sv":0.4,"bd":0.4,"ls":0.38,"gr":0.35,"tc":0.42,"tl":0.44,"tg":0.43,"tb":0.42,"tq":0.41,"at":0.43,"al":0.42,"ab":0.43},
{"w":191,"ac":0.437,"sv":0.44,"bd":0.42,"ls":0.44,"gr":0.36,"tc":0.43,"tl":0.43,"tg":0.42,"tb":0.42,"tq":0.44,"at":0.42,"al":0.45,"ab":0.44},
{"w":192,"ac":0.47,"sv":0.42,"bd":0.44,"ls":0.47,"gr":0.4,"tc":0.44,"tl":0.45,"tg":0.45,"tb":0.44,"tq":0.45,"at":0.44,"al":0.46,"ab":0.46},
{"w":193,"ac":0.484,"sv":0.45,"bd":0.43,"ls":0.45,"gr":0.38,"tc":0.47,"tl":0.46,"tg":0.46,"tb":0.46,"tq":0.44,"at":0.45,"al":0.47,"ab":0.42},
{"w":194,"ac":0.48,"sv":0.353,"bd":0.45,"ls":0.44,"gr":0.41,"tc":0.45,"tl":0.46,"tg":0.48,"tb":0.47,"tq":0.46,"at":0.45,"al":0.47,"ab":0.44},
{"w":195,"ac":0.42,"sv":0.46,"bd":0.42,"ls":0.53,"gr":0.44,"tc":0.43,"tl":0.42,"tg":0.44,"tb":0.42,"tq":0.43,"at":0.41,"al":0.45,"ab":0.4},
{"w":196,"ac":0.503,"sv":0.47,"bd":0.44,"ls":0.47,"gr":0.42,"tc":0.48,"tl":0.47,"tg":0.51,"tb":0.46,"tq":0.45,"at":0.45,"al":0.46,"ab":0.43},
{"w":197,"ac":0.413,"sv":0.44,"bd":0.4,"ls":0.43,"gr":0.38,"tc":0.42,"tl":0.41,"tg":0.46,"tb":0.4,"tq":0.42,"at":0.4,"al":0.43,"ab":0.42},
{"w":198,"ac":0.3,"sv":0.4,"bd":0.34,"ls":0.38,"gr":0.36,"tc":0.32,"tl":0.33,"tg":0.35,"tb":0.31,"tq":0.36,"at":0.33,"al":0.38,"ab":0.37},
{"w":199,"ac":0.373,"sv":0.35,"bd":0.287,"ls":0.36,"gr":0.34,"tc":0.3,"tl":0.35,"tg":0.33,"tb":0.29,"tq":0.33,"at":0.31,"al":0.36,"ab":0.36},
{"w":200,"ac":0.43,"sv":0.37,"bd":0.3,"ls":0.38,"gr":0.33,"tc":0.28,"tl":0.39,"tg":0.4,"tb":0.28,"tq":0.36,"at":0.34,"al":0.4,"ab":0.4},
{"w":201,"ac":0.42,"sv":0.4,"bd":0.36,"ls":0.41,"gr":0.37,"tc":0.36,"tl":0.41,"tg":0.46,"tb":0.38,"tq":0.39,"at":0.42,"al":0.47,"ab":0.44},
{"w":202,"ac":0.393,"sv":0.38,"bd":0.337,"ls":0.4,"gr":0.36,"tc":0.4,"tl":0.4,"tg":0.42,"tb":0.43,"tq":0.41,"at":0.44,"al":0.51,"ab":0.47}
    ]
  },
  "layer": [
    {
      "data": {"name": "weekly"},
      "transform": [
        {"fold": ["sv", "ls", "gr", "bd", "tc", "tq", "tg", "tl", "tb", "at", "al", "ab"], "as": ["code", "value"]},
        {"lookup": "code", "from": {"data": {"name": "names"}, "key": "code", "fields": ["model"]}}
      ],
      "mark": {"type": "line", "strokeWidth": 1.3, "strokeJoin": "round"},
      "encoding": {
        "x": {
          "field": "w", "type": "quantitative",
          "scale": {"domain": [-25, 225], "nice": false, "zero": false},
          "axis": {
            "title": "Week", "orient": "bottom",
            "values": [0, 50, 100, 150, 200],
            "tickSize": -8, "labelPadding": 15,
            "tickColor": "#222222", "tickWidth": 1.2,
            "domainColor": "#222222", "domainWidth": 1.5,
            "grid": false,
            "labelFont": "Liberation Serif", "labelFontSize": 19, "labelColor": "#222222",
            "titleFont": "Liberation Serif", "titleFontSize": 20, "titleFontWeight": "normal", "titleColor": "#222222",
            "titlePadding": 13
          }
        },
        "y": {
          "field": "value", "type": "quantitative",
          "scale": {"domain": [0.05, 0.65], "nice": false, "zero": false},
          "axis": {
            "title": "Situation Values", "orient": "left",
            "values": [0.1, 0.2, 0.3, 0.4, 0.5, 0.6],
            "format": ".1f",
            "tickSize": -8, "labelPadding": 16,
            "tickColor": "#222222", "tickWidth": 1.2,
            "domainColor": "#222222", "domainWidth": 1.5,
            "grid": false,
            "labelFont": "Liberation Serif", "labelFontSize": 19, "labelColor": "#222222",
            "titleFont": "Liberation Serif", "titleFontSize": 20, "titleFontWeight": "normal", "titleColor": "#222222",
            "titlePadding": 13
          }
        },
        "color": {
          "field": "model", "type": "nominal",
          "scale": {
            "domain": ["SVR", "TCN-LSTM", "ATCN", "BiDLSTM", "TCN-GRU", "ATCN-LSTM", "LSTM", "TCN-BiDLSTM", "ATCN-BiDLSTM", "TCN", "TCN-BiGRU", "Actual", "GRU"],
            "range": ["#3a64b0", "#7b4a44", "#67b346", "#4cbe8a", "#a9ad5c", "#f4b6d2", "#a87bcf", "#ff6b2c", "#ee2b2b", "#d39a2e", "#5d93d6", "#4a4a4a", "#4fd0d0"]
          },
          "legend": {
            "orient": "none", "legendX": 0, "legendY": 332,
            "direction": "horizontal",
            "columns": 3, "gridAlign": "all", "columnPadding": 86, "rowPadding": 0,
            "symbolType": "stroke", "symbolSize": 980, "symbolStrokeWidth": 1.5,
            "labelFont": "Liberation Serif", "labelFontSize": 20, "labelColor": "#222222", "labelOffset": 17,
            "title": null, "padding": 0
          }
        }
      }
    },
    {
      "data": {"name": "weekly"},
      "transform": [
        {"fold": ["ac"], "as": ["code", "value"]},
        {"lookup": "code", "from": {"data": {"name": "names"}, "key": "code", "fields": ["model"]}}
      ],
      "mark": {"type": "line", "strokeWidth": 2, "strokeJoin": "round"},
      "encoding": {
        "x": {"field": "w", "type": "quantitative", "axis": null},
        "y": {"field": "value", "type": "quantitative", "axis": null},
        "color": {"field": "model", "type": "nominal", "legend": null}
      }
    },
    {
      "data": {"name": "split"},
      "mark": {"type": "rule", "color": "#ee2b2b", "strokeWidth": 1.5, "strokeDash": [7, 5]},
      "encoding": {
        "x": {"field": "w", "type": "quantitative", "axis": null}
      }
    },
    {
      "data": {"name": "notes"},
      "mark": {"type": "text", "font": "Liberation Serif", "fontSize": 20, "color": "#222222", "align": "center", "baseline": "alphabetic"},
      "encoding": {
        "x": {
          "field": "w", "type": "quantitative",
          "axis": {"orient": "bottom", "values": [25, 75, 125, 175], "labels": false, "domain": false, "grid": false, "title": null, "tickSize": -4, "tickColor": "#222222", "tickWidth": 1.2}
        },
        "y": {
          "field": "value", "type": "quantitative",
          "axis": {"orient": "left", "values": [0.15, 0.25, 0.35, 0.45, 0.55], "labels": false, "domain": false, "grid": false, "title": null, "tickSize": -4, "tickColor": "#222222", "tickWidth": 1.2}
        },
        "text": {"field": "label"}
      }
    }
  ]
}
